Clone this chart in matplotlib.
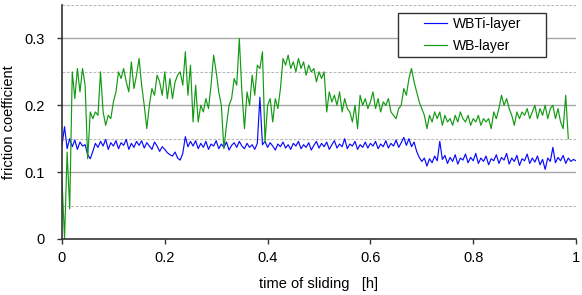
import numpy as np
import matplotlib
matplotlib.use("Agg")
import matplotlib.pyplot as plt
from matplotlib.patches import Rectangle

plt.rcParams["font.family"] = ["Liberation Sans", "DejaVu Sans"]

DT = 0.005  # sampling step of the traces [h]

# WBTi-layer friction coefficient (blue)
wbti = [
    .140, .168, .135, .150, .138, .148, .134, .145, .139, .141,
    .126, .120, .131, .143, .137, .146, .139, .149, .134, .144,
    .139, .147, .135, .144, .140, .149, .134, .143, .137, .146,
    .140, .147, .136, .144, .139, .134, .145, .139, .131, .138,
    .134, .129, .126, .124, .130, .121, .118, .128, .153, .138,
    .146, .139, .147, .135, .143, .137, .146, .134, .142, .139,
    .147, .135, .142, .137, .145, .133, .140, .144, .137, .146,
    .139, .135, .143, .137, .141, .134, .143, .212, .141, .146,
    .137, .144, .139, .133, .142, .138, .145, .136, .141, .134,
    .143, .139, .146, .135, .141, .137, .144, .133, .140, .146,
    .136, .143, .138, .145, .134, .141, .147, .136, .142, .138,
    .150, .135, .142, .139, .146, .134, .141, .137, .145, .136,
    .143, .139, .146, .135, .142, .138, .147, .136, .143, .139,
    .148, .137, .144, .152, .140, .150, .138, .145, .131, .122,
    .116, .121, .109, .120, .114, .124, .117, .146, .119, .125,
    .113, .122, .116, .126, .112, .121, .118, .127, .114, .122,
    .117, .128, .113, .121, .116, .124, .111, .120, .117, .126,
    .113, .122, .118, .128, .112, .121, .116, .125, .110, .120,
    .117, .127, .113, .121, .115, .124, .111, .119, .104, .121,
    .116, .137, .114, .122, .117, .125, .113, .121, .116, .119,
    .117,
]

# WB-layer friction coefficient (green)
wb = [
    .090, .000, .130, .045, .250, .210, .255, .220, .255, .230,
    .120, .190, .180, .190, .185, .250, .190, .170, .185, .180,
    .205, .220, .250, .240, .255, .235, .220, .265, .225, .245,
    .270, .230, .200, .165, .200, .225, .215, .245, .235, .215,
    .250, .210, .240, .210, .235, .245, .250, .230, .280, .215,
    .260, .175, .230, .175, .200, .190, .210, .195, .230, .275,
    .250, .220, .200, .135, .170, .200, .210, .240, .230, .300,
    .220, .165, .220, .200, .245, .215, .260, .255, .280, .145,
    .200, .210, .175, .210, .195, .225, .270, .260, .275, .255,
    .265, .250, .270, .255, .265, .245, .260, .250, .255, .235,
    .250, .240, .250, .190, .220, .205, .215, .200, .220, .190,
    .210, .195, .190, .175, .200, .165, .215, .200, .210, .195,
    .205, .220, .195, .210, .190, .205, .200, .210, .190, .185,
    .180, .195, .200, .225, .215, .240, .255, .235, .220, .205,
    .195, .185, .165, .185, .175, .190, .180, .190, .170, .185,
    .175, .180, .170, .185, .175, .190, .180, .175, .185, .170,
    .180, .175, .185, .170, .180, .175, .180, .165, .190, .180,
    .195, .215, .200, .210, .195, .185, .170, .190, .180, .190,
    .185, .195, .180, .190, .200, .180, .195, .185, .200, .180,
    .195, .200, .180, .195, .175, .165, .215, .150,
]

t_wbti = np.arange(len(wbti)) * DT
t_wb = np.arange(len(wb)) * DT

fig = plt.figure(figsize=(5.82, 2.95), dpi=100)
ax = fig.add_axes([0.1065, 0.19, 0.8832, 0.793])

# grid: solid at 0.1 steps, dashed in between
for y in [0.1, 0.2, 0.3]:
    ax.axhline(y, color="#a6a6a6", lw=1.0, zorder=0)
for y in [0.05, 0.15, 0.25, 0.35]:
    ax.axhline(y, color="#b8b8b8", lw=0.8, ls=(0, (2.5, 1.5)), zorder=0)

ax.plot(t_wbti, wbti, color="#0a0aff", lw=0.85, label="WBTi-layer")
ax.plot(t_wb, wb, color="#139a13", lw=0.85, label="WB-layer")

ax.set_xlim(0, 1)
ax.set_ylim(0, 0.35)
ax.set_xticks([0, 0.2, 0.4, 0.6, 0.8, 1])
ax.set_xticklabels(["0", "0.2", "0.4", "0.6", "0.8", "1"])
ax.set_yticks([0, 0.1, 0.2, 0.3])
ax.set_yticklabels(["0", "0.1", "0.2", "0.3"])
ax.tick_params(axis="both", labelsize=10.5, length=3.5, width=1,
               color="#333333", direction="out")
ax.tick_params(axis="y", pad=9)
ax.tick_params(axis="x", pad=5)

for s in ["top", "right"]:
    ax.spines[s].set_visible(False)
for s in ["left", "bottom"]:
    ax.spines[s].set_color("#333333")
    ax.spines[s].set_linewidth(1.2)

ax.set_xlabel("time of sliding   [h]", fontsize=10.5, labelpad=9)
ax.set_ylabel("friction coefficient", fontsize=10.5, labelpad=6)

# legend box
ax.add_patch(Rectangle((0.654, 0.778), 0.288, 0.188, transform=ax.transAxes,
                       facecolor="white", edgecolor="#333333", lw=1.0,
                       zorder=4))
leg = ax.legend(loc="center", bbox_to_anchor=(0.799, 0.872), frameon=False,
                fontsize=10, handlelength=1.7, handletextpad=0.4,
                labelspacing=0.55, borderpad=0)
leg.set_zorder(5)

fig.savefig("out.png", dpi=100)
